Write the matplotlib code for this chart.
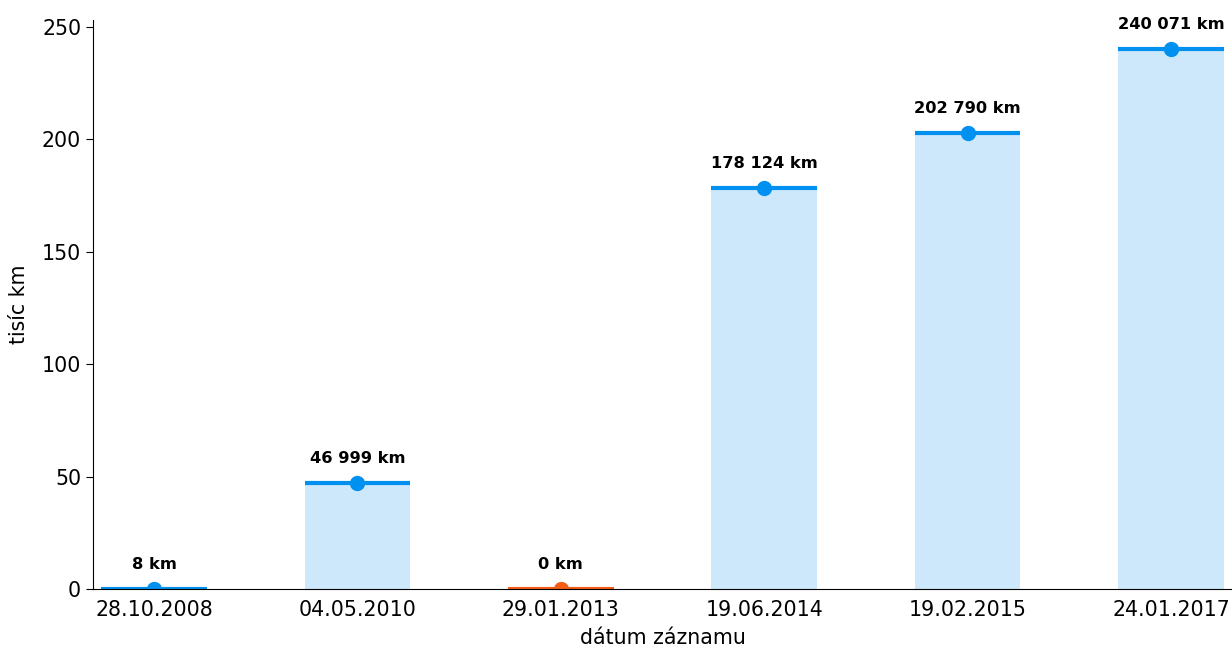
import matplotlib
matplotlib.use("Agg")
import matplotlib.pyplot as plt

# Odometer readings per inspection date
dates = ["28.10.2008", "04.05.2010", "29.01.2013", "19.06.2014", "19.02.2015", "24.01.2017"]
km_values = [8, 46999, 0, 178124, 202790, 240071]
flagged = [False, False, True, False, False, False]

blue = "#0091f0"
blue_light = "#cde8fb"
orange = "#f55e17"
orange_light = "#fcd9c6"

fig = plt.figure(figsize=(12.32, 6.49), dpi=100)
ax = fig.add_axes([0.0755, 0.0924, 0.9245, 0.877])

x = list(range(len(dates)))
thousands = [v / 1000 for v in km_values]
width = 0.52

for xi, val, km, bad in zip(x, thousands, km_values, flagged):
    line_c = orange if bad else blue
    fill_c = orange_light if bad else blue_light
    ax.bar(xi, val, width=width, color=fill_c, zorder=1)
    ax.plot([xi - width / 2, xi + width / 2], [val, val], color=line_c, lw=3, zorder=3,
            solid_capstyle="butt")
    ax.plot(xi, val, "o", color=line_c, ms=10, zorder=4)
    label = f"{km:,} km".replace(",", " ")
    ax.annotate(label, (xi, val), xytext=(0, 14.5), textcoords="offset points",
                ha="center", va="baseline", fontsize=11.7, fontweight="bold")

ax.set_xlim(-0.3, 5.3)
ax.set_ylim(0, 253)
ax.set_xticks(x)
ax.set_xticklabels(dates, fontsize=14.8)
ax.set_yticks([0, 50, 100, 150, 200, 250])
ax.tick_params(axis="y", labelsize=14.8, length=5)
ax.tick_params(axis="x", length=0, pad=8)
ax.set_xlabel("dátum záznamu", fontsize=14.8, labelpad=6)
ax.set_ylabel("tisíc km", fontsize=14.8, labelpad=9)
ax.spines["top"].set_visible(False)
ax.spines["right"].set_visible(False)
ax.spines["bottom"].set_zorder(5)

fig.savefig("out.png", dpi=100)
